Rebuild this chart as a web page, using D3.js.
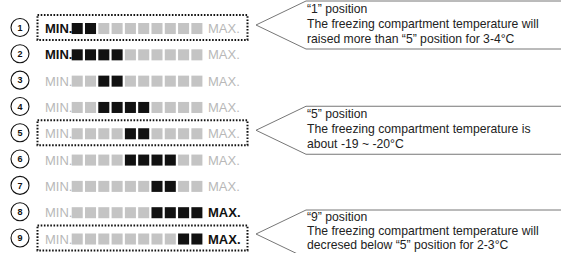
<!DOCTYPE html>
<html>
<head>
<meta charset="utf-8">
<script src="https://cdn.jsdelivr.net/npm/d3@7/dist/d3.min.js"></script>
<style>
  body { margin: 0; background: #fff; }
  svg { display: block; font-family: "Liberation Sans", Arial, sans-serif; }
</style>
</head>
<body>
<div id="chart"></div>
<script>
// positions of the dial and which of the 10 segments are lit
const positions = [1, 2, 3, 4, 5, 6, 7, 8, 9];
const litFrom = [0, 0, 2, 2, 4, 4, 6, 6, 8];
const litTo   = [1, 3, 3, 5, 5, 7, 7, 9, 9];
const segments = d3.range(10);
const highlighted = [1, 5, 9];
const calloutText = [
    ["\u201c1\u201d position", "The freezing compartment temperature will", "raised more than \u201c5\u201d position for 3-4\u00b0C"],
    ["\u201c5\u201d position", "The freezing compartment temperature is", "about -19 ~ -20\u00b0C"],
    ["\u201c9\u201d position", "The freezing compartment temperature will", "decresed below \u201c5\u201d position for 2-3\u00b0C"]
];

const width = 564, height = 253;
const dark = "#111", grey = "#c4c4c4", greyText = "#b8b8b8";

const svg = d3.select("#chart").append("svg").attr("width", width).attr("height", height);

const y = d3.scaleLinear().domain([1, 9]).range([27.5, 238]);
const x = d3.scaleBand().domain(segments).range([71.7, 202.4]).paddingInner(0.17).paddingOuter(0);

const rows = svg.selectAll("g.row").data(positions).enter().append("g").attr("class", "row")
    .attr("transform", function (d) { return "translate(0," + y(d) + ")"; });

// numbered circles
rows.append("circle").attr("cx", 20).attr("cy", 0).attr("r", 9)
    .attr("fill", "#fff").attr("stroke", "#111").attr("stroke-width", 1.1);
rows.append("text").attr("x", 20).attr("y", 3.3).attr("text-anchor", "middle")
    .attr("font-size", 9).attr("font-weight", "bold").attr("fill", "#111")
    .text(function (d) { return d; });

// MIN. / MAX. labels
rows.append("text").attr("x", 45).attr("y", 5.5).attr("font-size", 13)
    .attr("font-weight", function (d, i) { return litFrom[i] == 0 ? "bold" : "normal"; })
    .attr("fill", function (d, i) { return litFrom[i] == 0 ? dark : greyText; })
    .text("MIN.");
rows.append("text").attr("x", 208).attr("y", 5.5).attr("font-size", 13)
    .attr("font-weight", function (d, i) { return litTo[i] == 9 ? "bold" : "normal"; })
    .attr("fill", function (d, i) { return litTo[i] == 9 ? dark : greyText; })
    .text("MAX.");

// segments
rows.each(function (d, i) {
    d3.select(this).selectAll("rect").data(segments).enter().append("rect")
        .attr("x", function (s) { return x(s); })
        .attr("y", -4.5)
        .attr("width", x.bandwidth()).attr("height", x.bandwidth())
        .attr("fill", function (s) { return s >= litFrom[i] && s <= litTo[i] ? dark : grey; });
});

// dotted boxes on the highlighted rows
svg.selectAll("rect.box").data(highlighted).enter().append("rect").attr("class", "box")
    .attr("x", 37.5).attr("y", function (d) { return y(d) - 12.5; })
    .attr("width", 210).attr("height", 25)
    .attr("fill", "none").attr("stroke", "#111").attr("stroke-width", 2)
    .attr("stroke-dasharray", "1.6,1.6");

// callouts
const callouts = svg.selectAll("g.callout").data(highlighted).enter().append("g").attr("class", "callout");

function calloutCenter(d) { return Math.min(y(d) - 2.5, 234); }

callouts.append("path")
    .attr("d", function (d) {
        const c = calloutCenter(d);
        return "M561," + (c - 24) + " L306," + (c - 24) + " L256," + c + " L306," + (c + 24) + " L561," + (c + 24);
    })
    .attr("fill", "none").attr("stroke", "#777").attr("stroke-width", 1);

callouts.each(function (d, i) {
    const c = calloutCenter(d);
    d3.select(this).selectAll("text").data(calloutText[i]).enter().append("text")
        .attr("x", 307)
        .attr("y", function (t, j) { return Math.min(c - 12 + j * 15, height - 4 - (2 - j) * 14); })
        .attr("font-size", 12.2).attr("fill", "#222")
        .text(function (t) { return t; });
});
</script>
</body>
</html>
